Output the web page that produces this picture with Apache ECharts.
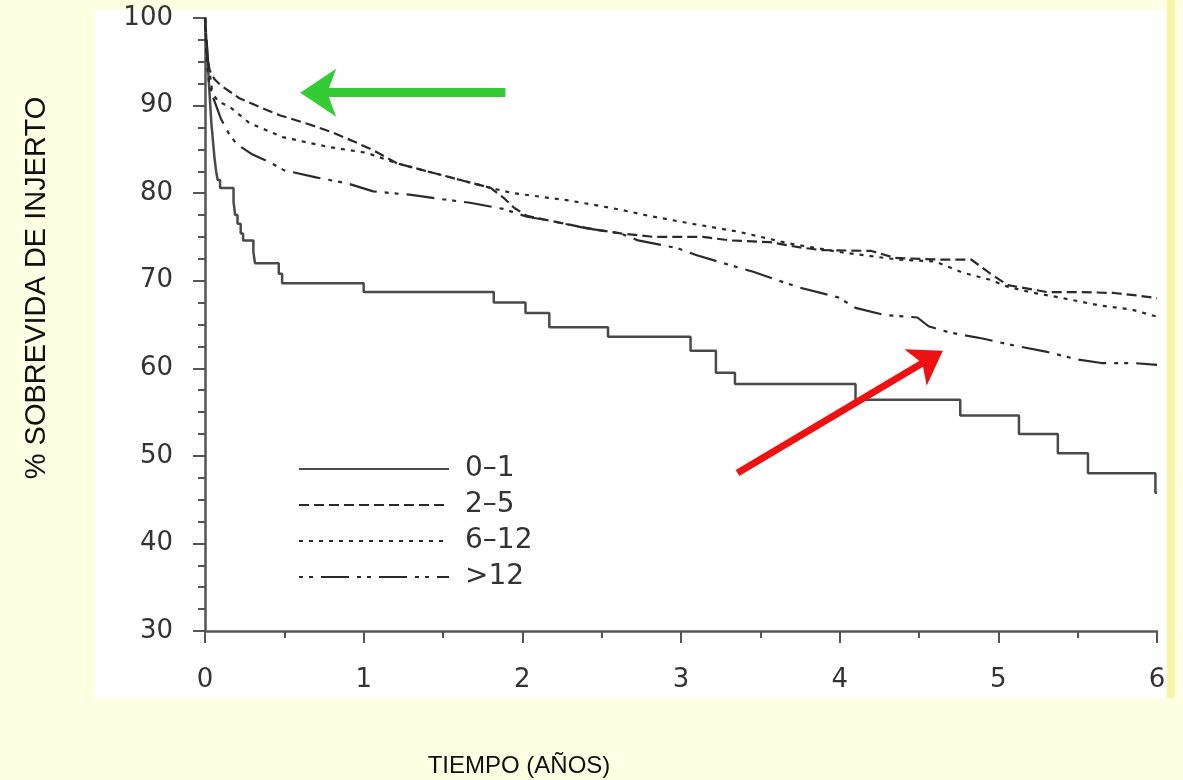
<!DOCTYPE html>
<html><head><meta charset="utf-8">
<script src="https://cdn.jsdelivr.net/npm/echarts@6/dist/echarts.min.js"></script>
<style>
html,body{margin:0;padding:0;background:#ffffe3;width:1183px;height:780px;overflow:hidden;}
#paper{position:absolute;left:95px;top:10px;width:1072px;height:688px;background:#ffffff;}
#stripe{position:absolute;left:1167px;top:0;width:8px;height:698px;background:#f6f7a6;}
#chart{position:absolute;left:0;top:0;width:1183px;height:780px;}
</style></head><body>
<div id="paper"></div><div id="stripe"></div><div id="chart"></div>
<script>
// ---- data (years, % graft survival) ----
const seriesNames = ['0–1', '2–5', '6–12', '>12'];
const xTickValues = [0, 1, 2, 3, 4, 5, 6];
const yTickValues = [30, 40, 50, 60, 70, 80, 90, 100];

const grp0_1 = [[0,100],[0.01,97],[0.02,94],[0.03,91],[0.04,88],[0.05,86],[0.06,84],[0.07,82.5],[0.08,81.5],[0.095,80.6],
  [0.18,79],[0.19,77.5],[0.205,76.5],[0.225,75.4],[0.24,74.6],[0.305,73.3],[0.315,72.0],[0.465,70.8],[0.486,69.7],
  [1.0,68.7],[1.82,67.5],[2.02,66.3],[2.17,64.7],[2.54,63.6],[3.06,62.0],[3.22,59.5],[3.34,58.2],[4.10,56.4],
  [4.76,54.6],[5.13,52.5],[5.375,50.3],[5.565,48.0],[5.99,45.8],[6.0,45.8]];

const grp2_5 = [[0,100],[0.01,96],[0.03,94],[0.06,93],[0.1,92.3],[0.22,90.8],[0.35,89.8],[0.47,88.9],[0.65,87.9],
  [0.81,86.9],[0.95,85.8],[1.06,84.9],[1.21,83.4],[1.42,82.4],[1.61,81.5],[1.8,80.6],[1.88,79.5],[1.95,78.3],
  [2.03,77.4],[2.16,76.9],[2.41,76.0],[2.62,75.4],[2.83,75.0],[3.14,75.0],[3.31,74.6],[3.56,74.4],[3.75,73.8],
  [3.88,73.5],[4.2,73.4],[4.35,72.6],[4.64,72.4],[4.83,72.4],[4.95,70.8],[5.06,69.5],[5.31,68.7],[5.52,68.7],
  [5.73,68.6],[5.88,68.3],[6.0,68.0]];

const grp6_12 = [[0,100],[0.01,95],[0.03,92],[0.08,90.5],[0.16,89.8],[0.28,88.0],[0.49,86.4],[0.77,85.3],[1.02,84.6],
  [1.21,83.4],[1.42,82.4],[1.61,81.5],[1.8,80.6],[1.94,80.0],[2.11,79.6],[2.28,79.2],[2.47,78.6],[2.62,78.1],
  [2.8,77.4],[3.04,76.6],[3.36,75.6],[3.67,74.3],[3.99,73.3],[4.2,72.8],[4.37,72.4],[4.6,72.2],[4.78,70.9],
  [4.95,70.1],[5.06,69.3],[5.2,68.7],[5.41,68.0],[5.63,67.2],[5.84,66.7],[6.0,65.9]];

const grpOver12 = [[0,100],[0.02,95],[0.05,91],[0.1,88.5],[0.15,86.8],[0.2,85.6],[0.3,84.4],[0.4,83.6],[0.5,82.6],
  [0.7,81.8],[0.9,81.1],[1.06,80.2],[1.3,79.8],[1.5,79.3],[1.67,78.9],[1.88,78.2],[2.03,77.3],[2.16,76.9],
  [2.4,76.0],[2.62,75.4],[2.73,74.6],[2.98,73.7],[3.1,72.9],[3.25,72.1],[3.46,71.0],[3.6,70.1],[3.75,69.2],
  [3.99,68.1],[4.1,66.9],[4.28,66.1],[4.49,65.8],[4.56,64.8],[4.69,64.1],[4.9,63.4],[5.1,62.6],[5.3,61.9],
  [5.5,61.0],[5.65,60.6],[5.85,60.6],[6.0,60.4]];

// annotation arrows in data units: shaft [tail, end inside head], head [base-side point, tip]
const greenShaft = [[1.893, 91.47], [0.726, 91.47]];
const greenHead  = [[0.66, 91.47], [0.60, 91.47]];
const redShaft   = [[3.356, 48.04], [4.541, 60.81]];
const redHead    = [[4.606, 61.51], [4.650, 62.0]];

const xTitle = 'TIEMPO (AÑOS)';
const yTitle = '% SOBREVIDA DE INJERTO';

// ---- chart ----
const chart = echarts.init(document.getElementById('chart'), null, {renderer: 'canvas'});
const axisColor = '#555555';
const labelFont = {fontFamily: 'DejaVu Sans', fontSize: 26, color: '#333333'};

function shaftItem(pts, color, width) {
  const st = {symbol: 'none', lineStyle: {color: color, width: width, type: 'solid', cap: 'butt'}, itemStyle: {color: color}};
  return [Object.assign({coord: pts[0]}, st), Object.assign({coord: pts[1]}, st)];
}
function headItem(pts, color, size) {
  const st = {symbolSize: size, lineStyle: {color: color, width: 0.01, opacity: 1}, itemStyle: {color: color}};
  return [Object.assign({coord: pts[0], symbol: 'none'}, st), Object.assign({coord: pts[1], symbol: 'arrow'}, st)];
}

const option = {
  backgroundColor: 'transparent',
  animation: false,
  grid: {left: 205, top: 18, right: 26, bottom: 149},
  xAxis: {
    type: 'value', min: xTickValues[0], max: xTickValues[xTickValues.length - 1], interval: 1,
    axisLine: {show: true, onZero: false, lineStyle: {color: axisColor, width: 2.5}},
    axisTick: {show: true, length: 12, lineStyle: {color: axisColor, width: 2}},
    minorTick: {show: true, splitNumber: 2, length: 7, lineStyle: {color: axisColor, width: 2}},
    splitLine: {show: false},
    axisLabel: Object.assign({margin: 36}, labelFont)
  },
  yAxis: {
    type: 'value', min: yTickValues[0], max: yTickValues[yTickValues.length - 1], interval: 10,
    axisLine: {show: true, onZero: false, lineStyle: {color: axisColor, width: 2.5}},
    axisTick: {show: true, length: 12, lineStyle: {color: axisColor, width: 2}},
    minorTick: {show: true, splitNumber: 4, length: 7, lineStyle: {color: axisColor, width: 2}},
    splitLine: {show: false},
    axisLabel: Object.assign({margin: 32}, labelFont)
  },
  legend: {
    orient: 'vertical', left: 298, top: 455, padding: 0, itemWidth: 150, itemHeight: 16, itemGap: 8,
    selectedMode: false, data: seriesNames,
    itemStyle: {opacity: 0},
    textStyle: Object.assign({padding: [0, 0, 0, 11]}, labelFont, {fontSize: 28})
  },
  graphic: [
    {type: 'text', x: 37, y: 288, rotation: Math.PI / 2,
     style: {text: yTitle, font: '29px "Liberation Sans", Arial, sans-serif', fill: '#111111',
             align: 'center', verticalAlign: 'middle', textAlign: 'center', textVerticalAlign: 'middle'}},
    {type: 'text', x: 519, y: 766,
     style: {text: xTitle, font: '24px "Liberation Sans", Arial, sans-serif', fill: '#111111',
             align: 'center', verticalAlign: 'middle', textAlign: 'center', textVerticalAlign: 'middle'}}
  ],
  series: [
    {name: seriesNames[0], type: 'line', data: grp0_1, step: 'end', symbol: 'none', z: 3,
     lineStyle: {color: '#4a4a4a', width: 2.5, type: 'solid'}, itemStyle: {color: '#4a4a4a'},
     markLine: {silent: true, symbol: ['none', 'none'], animation: false,
       label: {show: false}, emphasis: {disabled: true},
       data: [shaftItem(greenShaft, '#33cc33', 9), headItem(greenHead, '#33cc33', 36),
              shaftItem(redShaft, '#ee1111', 7), headItem(redHead, '#ee1111', 32)]}},
    {name: seriesNames[1], type: 'line', data: grp2_5, symbol: 'none',
     lineStyle: {color: '#2a2a2a', width: 2.2, type: [10, 5]}, itemStyle: {color: '#2a2a2a'}},
    {name: seriesNames[2], type: 'line', data: grp6_12, symbol: 'none',
     lineStyle: {color: '#2a2a2a', width: 2.2, type: [4, 6]}, itemStyle: {color: '#2a2a2a'}},
    {name: seriesNames[3], type: 'line', data: grpOver12, symbol: 'none',
     lineStyle: {color: '#2a2a2a', width: 2.2, type: [4, 6, 4, 8, 28, 8]}, itemStyle: {color: '#2a2a2a'}}
  ]
};
chart.setOption(option);
</script></body></html>
